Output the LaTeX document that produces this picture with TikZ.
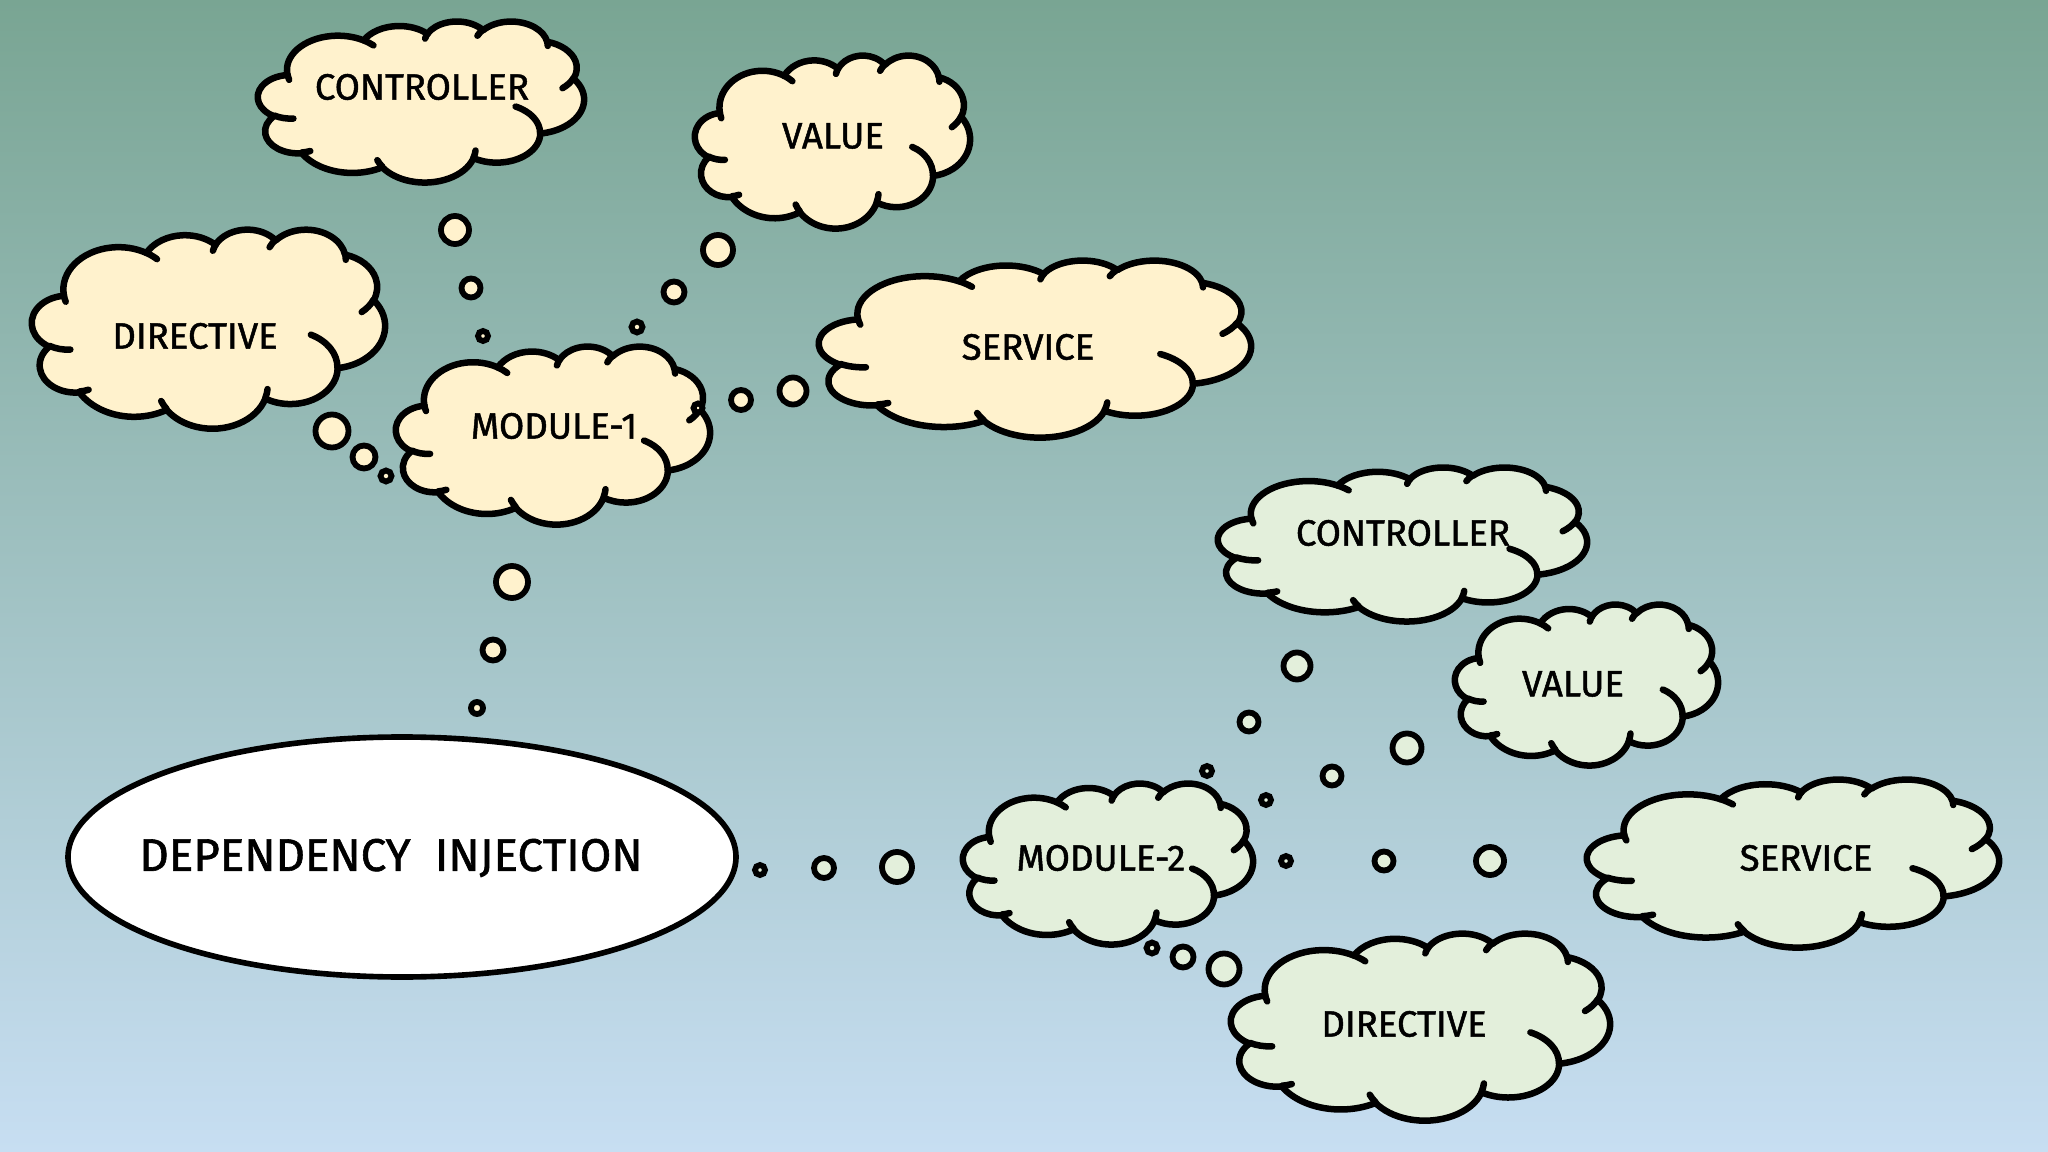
\documentclass[tikz,border=0pt]{standalone}
\usepackage{fontspec}
\setmainfont{Fira Sans}
\newfontfamily\lblfont{Fira Sans}[FakeBold=1.3]
\definecolor{bgtop}{RGB}{121,165,147}
\definecolor{bgbot}{RGB}{199,222,242}
\definecolor{cream}{RGB}{255,242,205}
\definecolor{mint}{RGB}{227,239,219}
\tikzset{
  cloudline/.style={line width=1.85pt, line join=round, line cap=round},
  lbl/.style={font=\lblfont\fontsize{10.4}{12}\selectfont, inner sep=0pt},
  bub/.style={circle, draw, line width=1.65pt, inner sep=0pt, minimum size=#1*0.01cm},
}
% OOXML-style elliptical arc (visual angles converted to parametric ones)
\newcommand\ooarc[4]{arc[start angle={atan2(#1*sin(#3),#2*cos(#3))}, delta angle={Mod(atan2(#1*sin(#3+#4),#2*cos(#3+#4))-atan2(#1*sin(#3),#2*cos(#3))+720,360)}, x radius=#1, y radius=#2]}
\newcommand\cloudshape[5]{%
 \begin{scope}[shift={(#1,#2)}, xscale={#3/43.2}, yscale={#4/43.2}]
  \filldraw[cloudline, fill=#5] (3.9,14.37)
    \ooarc{6.753}{9.190}{-190.4875}{123.7805}
    \ooarc{5.333}{7.267}{-144.1024}{89.9452}
    \ooarc{4.365}{5.945}{-145.8079}{99.7230}
    \ooarc{4.857}{6.595}{-130.9861}{117.2417}
    \ooarc{5.333}{7.273}{-78.7089}{109.0269}
    \ooarc{6.775}{9.220}{-46.2673}{130.269}
    \ooarc{5.785}{7.867}{0.6250}{114.0333}
    \ooarc{6.752}{9.215}{22.4516}{115.1726}
    \ooarc{7.720}{10.543}{66.2426}{75.7110}
    \ooarc{4.360}{5.918}{-274.9421}{146.7356}
    \ooarc{4.345}{5.945}{-246.8285}{152.5189} -- cycle;
  \draw[cloudline]
    (4.693,26.177) \ooarc{4.345}{5.945}{86.742}{26.4295}
    (6.928,34.899) \ooarc{4.360}{5.918}{73.6105}{11.4475}
    (16.478,39.090) \ooarc{6.752}{9.215}{137.6242}{14.0811}
    (28.827,34.751) \ooarc{6.752}{9.215}{6.4533}{15.9984}
    (34.129,22.954) \ooarc{5.785}{7.867}{-70.2924}{70.9174}
    (41.798,15.354) \ooarc{5.333}{7.273}{30.3180}{27.7515}
    (38.324,5.426) \ooarc{4.857}{6.595}{-13.7443}{14.8589}
    (29.078,3.952) \ooarc{4.857}{6.595}{-149.1815}{18.1954}
    (22.141,4.720) \ooarc{4.365}{5.945}{-163.4943}{17.6864}
    (14.000,5.192) \ooarc{6.753}{9.190}{-66.7070}{12.3194}
    (4.127,15.789) \ooarc{6.753}{9.190}{157.6544}{11.8582};
 \end{scope}}
\begin{document}
\begin{tikzpicture}[x=0.01cm, y=-0.01cm]
\shade[top color=bgtop, bottom color=bgbot] (0,0) rectangle (2048,1152);
\useasboundingbox (0,0) rectangle (2048,1152);

% upper group
\cloudshape{258}{21}{326}{161}{cream}
\cloudshape{695}{55}{275}{173}{cream}
\cloudshape{32}{229}{353}{199}{cream}
\cloudshape{819}{260}{432}{177}{cream}
\cloudshape{396}{346}{314}{178}{cream}
% lower group
\cloudshape{1218}{467}{369}{154}{mint}
\cloudshape{1455}{604}{263}{161}{mint}
\cloudshape{963}{783}{290}{161}{mint}
\cloudshape{1587}{779}{412}{168}{mint}
\cloudshape{1231}{933}{379}{187}{mint}

\node[lbl] (ctrl1) at (422,87) {CONTROLLER};
\node[lbl] (val1) at (833,136) {VALUE};
\node[lbl] (dir1) at (195,336) {DIRECTIVE};
\node[lbl] (srv1) at (1028,347) {SERVICE};
\node[lbl] (mod1) at (554,426) {MODULE-1};
\node[lbl] (ctrl2) at (1403,533) {CONTROLLER};
\node[lbl] (val2) at (1573,684) {VALUE};
\node[lbl] (mod2) at (1101,858) {MODULE-2};
\node[lbl] (srv2) at (1806,858) {SERVICE};
\node[lbl] (dir2) at (1404,1024) {DIRECTIVE};

% central ellipse
\draw[line width=1.6pt, fill=white] (402,857) ellipse [x radius=334, y radius=120];
\node[inner sep=0pt, font=\lblfont\fontsize{13}{15}\selectfont] (di) at (391,858) {DEPENDENCY\ \ INJECTION};

% thought bubbles, upper group
\node[bub=28, fill=cream] (c1a) at (455,230) {};
\node[bub=19, fill=cream] (c1b) at (471,288) {};
\node[bub=10, fill=cream] (c1c) at (483,336) {};
\node[bub=30, fill=cream] (v1a) at (718,250) {};
\node[bub=21, fill=cream] (v1b) at (674,292) {};
\node[bub=11, fill=cream] (v1c) at (637,327) {};
\node[bub=33, fill=cream] (d1a) at (332,431) {};
\node[bub=23, fill=cream] (d1b) at (364,457) {};
\node[bub=11, fill=cream] (d1c) at (386,476) {};
\node[bub=27, fill=cream] (s1a) at (793,391) {};
\node[bub=20, fill=cream] (s1b) at (741,400) {};
\node[bub=9, fill=cream] (s1c) at (698,408) {};
\node[bub=32, fill=cream] (m1a) at (512,582) {};
\node[bub=21, fill=cream] (m1b) at (493,650) {};
\node[bub=12, fill=cream] (m1c) at (477,708) {};
% lower group
\node[bub=10, fill=mint] (m2c) at (760,870) {};
\node[bub=20, fill=mint] (m2b) at (824,868) {};
\node[bub=30, fill=mint] (m2a) at (897,867) {};
\node[bub=27, fill=mint] (c2a) at (1297,666) {};
\node[bub=19, fill=mint] (c2b) at (1249,722) {};
\node[bub=10, fill=mint] (c2c) at (1207,771) {};
\node[bub=29, fill=mint] (v2a) at (1407,748) {};
\node[bub=19, fill=mint] (v2b) at (1332,776) {};
\node[bub=10, fill=mint] (v2c) at (1266,800) {};
\node[bub=28, fill=mint] (s2a) at (1490,861) {};
\node[bub=19, fill=mint] (s2b) at (1384,861) {};
\node[bub=10, fill=mint] (s2c) at (1286,861) {};
\node[bub=31, fill=mint] (d2a) at (1224,969) {};
\node[bub=21, fill=mint] (d2b) at (1183,957) {};
\node[bub=11, fill=mint] (d2c) at (1152,948) {};
\end{tikzpicture}
\end{document}
